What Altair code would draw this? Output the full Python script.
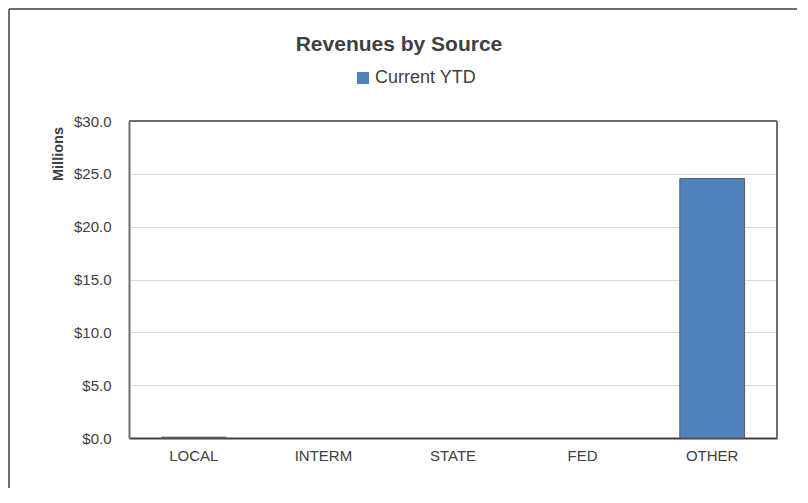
import altair as alt
import pandas as pd

categories = ["LOCAL", "INTERM", "STATE", "FED", "OTHER"]
values = [0.08, 0.0, 0.0, 0.0, 24.55]
series_name = "Current YTD"
title_text = "Revenues by Source"
y_title = "Millions"
y_ticks = [0, 5, 10, 15, 20, 25, 30]

FONT = "Liberation Sans"
FRAME = "#6e6e6e"

df = pd.DataFrame({"source": categories, "value": values, "series": [series_name] * len(categories)})

W, H = 648, 317
PAD_L, PAD_T = 121, 113

bars = alt.Chart(df).mark_bar(stroke="#5a5a5a", strokeWidth=1).encode(
    x=alt.X("source:N", sort=categories, title=None,
            scale=alt.Scale(paddingInner=0.5, paddingOuter=0.25),
            axis=alt.Axis(labelAngle=0, labelFont=FONT, labelFontSize=15, labelColor="#404040",
                          labelPadding=10, ticks=False, domainColor="#404040", domainWidth=2,
                          grid=False)),
    y=alt.Y("value:Q", title=None,
            scale=alt.Scale(domain=[0, 30], nice=False),
            axis=alt.Axis(values=y_ticks, format="$.1f", labelFont=FONT, labelFontSize=15,
                          labelColor="#404040", labelPadding=18, ticks=False, domain=True,
                          domainColor=FRAME, domainWidth=2,
                          grid=True, gridColor="#d9d9d9", gridWidth=1)),
    color=alt.Color("series:N", scale=alt.Scale(range=["#4f81bd"]),
                    legend=alt.Legend(title=None, orient="none", legendX=225, legendY=-52,
                                      symbolType="square", symbolSize=144, symbolStrokeWidth=0,
                                      labelFont=FONT, labelFontSize=18, labelColor="#404040",
                                      labelOffset=3, padding=0)),
    strokeOpacity=alt.condition(alt.datum.value > 0, alt.value(1), alt.value(0)),
)

title_df = pd.DataFrame({"t": [title_text]})
title = alt.Chart(title_df).mark_text(font=FONT, fontSize=21, fontWeight="bold", color="#404040",
                                      align="center", baseline="middle").encode(
    text="t:N", x=alt.value(270), y=alt.value(-76))

ytitle_df = pd.DataFrame({"t": [y_title]})
ytitle = alt.Chart(ytitle_df).mark_text(font=FONT, fontSize=14.5, fontWeight="bold", color="#404040",
                                        align="center", baseline="middle", angle=270).encode(
    text="t:N", x=alt.value(-70), y=alt.value(33))

frame_top = alt.Chart(title_df).mark_rule(color=FRAME, strokeWidth=2).encode(
    x=alt.value(0), x2=alt.value(W), y=alt.value(0))
frame_right = alt.Chart(title_df).mark_rule(color=FRAME, strokeWidth=2).encode(
    x=alt.value(W), y=alt.value(0), y2=alt.value(H))

border_top = alt.Chart(title_df).mark_rule(color=FRAME, strokeWidth=2).encode(
    x=alt.value(-PAD_L + 1), x2=alt.value(W + 40), y=alt.value(-PAD_T + 1))
border_left = alt.Chart(title_df).mark_rule(color=FRAME, strokeWidth=2).encode(
    x=alt.value(-PAD_L + 1), y=alt.value(-PAD_T + 1), y2=alt.value(H + 60))

chart = alt.layer(bars, frame_top, frame_right, title, ytitle, border_top, border_left).properties(
    width=W, height=H,
    autosize=alt.AutoSizeParams(type="none"),
    padding={"left": PAD_L, "top": PAD_T, "right": 20, "bottom": 50},
).configure_view(stroke=None).configure(background="white")

chart.save("out.html", embed_options={"renderer": "svg", "actions": False})
